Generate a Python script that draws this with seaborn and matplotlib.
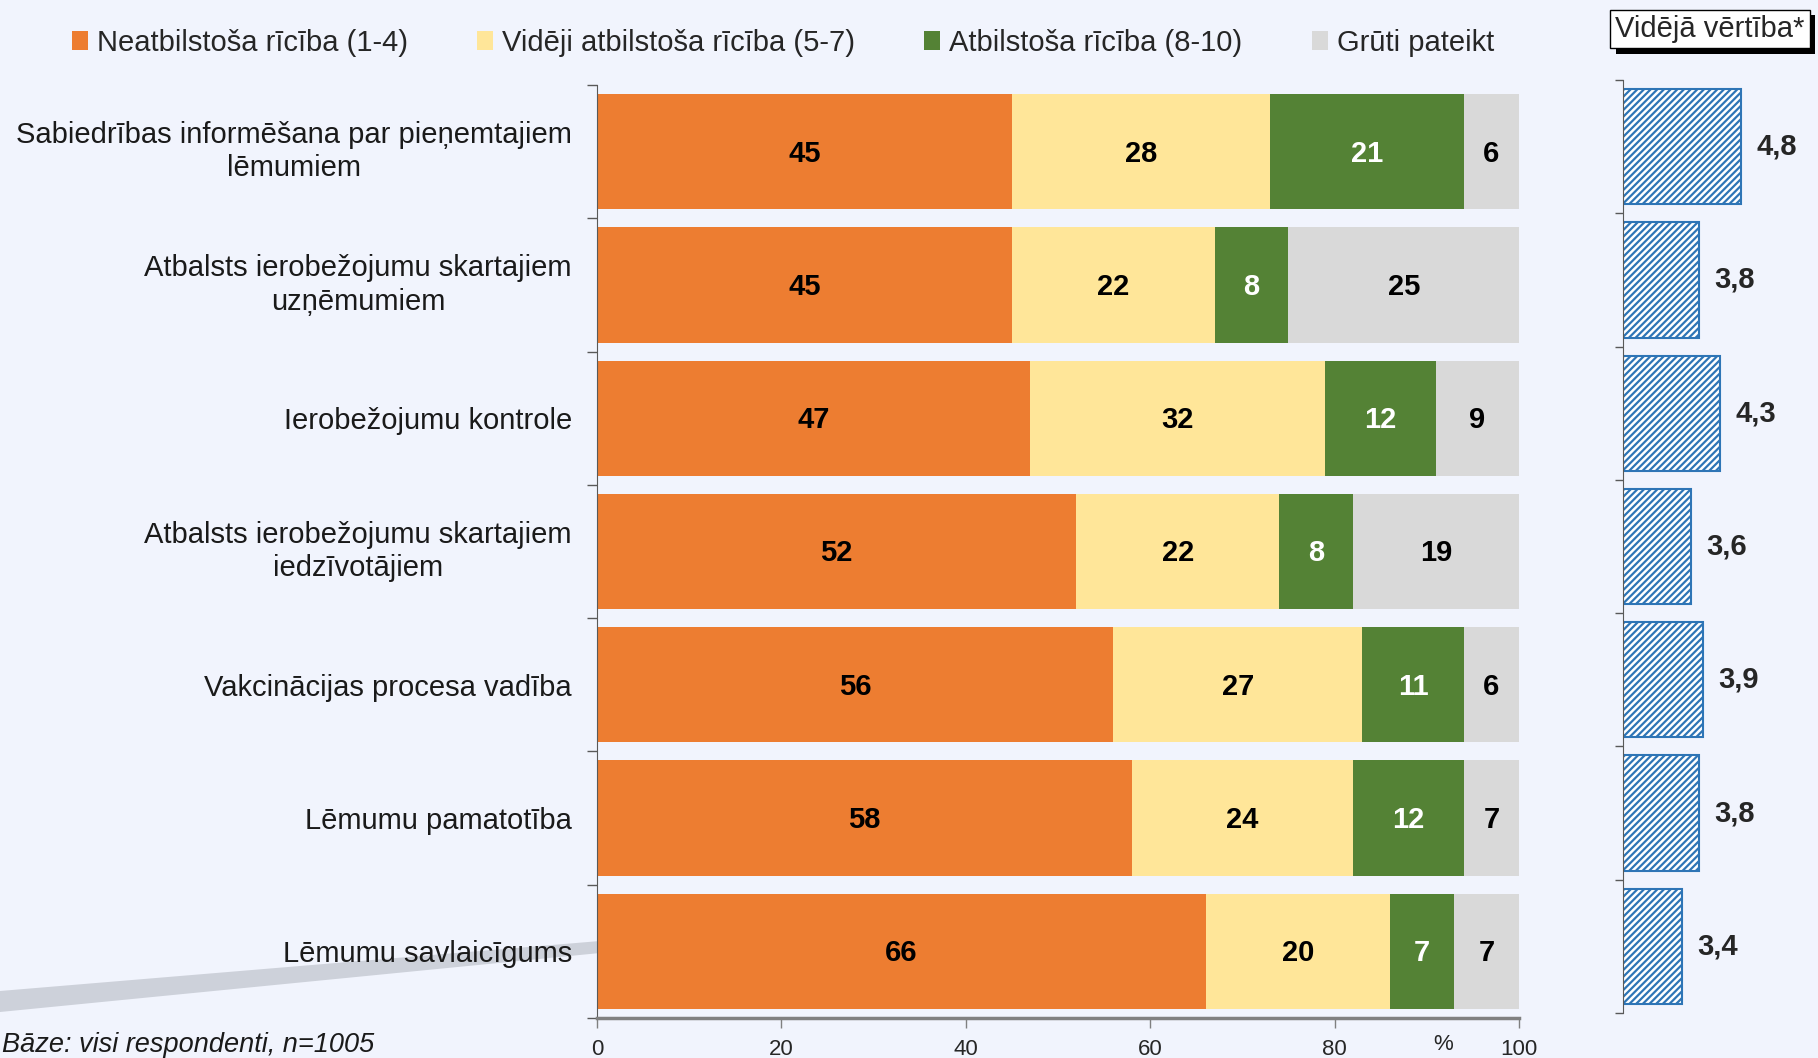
import matplotlib
matplotlib.use('Agg')
import matplotlib.pyplot as plt
import matplotlib.patheffects as pe
from matplotlib.patches import Patch, Polygon
import seaborn as sns
import numpy as np

# data
categories = ['Sabiedrības informēšana par pieņemtajiem\nlēmumiem',
              'Atbalsts ierobežojumu skartajiem\nuzņēmumiem',
              'Ierobežojumu kontrole',
              'Atbalsts ierobežojumu skartajiem\niedzīvotājiem',
              'Vakcinācijas procesa vadība',
              'Lēmumu pamatotība',
              'Lēmumu savlaicīgums']
neatbilstosa = [45, 45, 47, 52, 56, 58, 66]
videji = [28, 22, 32, 22, 27, 24, 20]
atbilstosa = [21, 8, 12, 8, 11, 12, 7]
gruti = [6, 25, 9, 19, 6, 7, 7]
videja_vertiba = [4.8, 3.8, 4.3, 3.6, 3.9, 3.8, 3.4]

series_names = ['Neatbilstoša rīcība (1-4)', 'Vidēji atbilstoša rīcība (5-7)',
                'Atbilstoša rīcība (8-10)', 'Grūti pateikt']
colors = ['#ED7D31', '#FFE699', '#548235', '#D9D9D9']
text_colors = ['black', 'black', 'white', 'black']

bg = '#f1f4fd'
blue = '#2E75B6'

sns.set_style('ticks')
plt.rcParams['font.family'] = ['Liberation Sans', 'DejaVu Sans']
plt.rcParams['hatch.color'] = blue
plt.rcParams['hatch.linewidth'] = 1.6

fig = plt.figure(figsize=(18.18, 10.58), dpi=100, facecolor=bg)
W, H = 1818, 1058

# decorative grey swoosh bottom-left, behind everything
swoosh = Polygon([(0, 1 - 991 / H), (600 / W, 1 - 941 / H), (600 / W, 1 - 953 / H), (0, 1 - 1012 / H)],
                 closed=True, transform=fig.transFigure, facecolor='#cdd1da', edgecolor='none', zorder=-5)
fig.patches.append(swoosh)

ax = fig.add_axes([597 / W, 1 - 1018 / H, 922 / W, (1018 - 85) / H])
ax2 = fig.add_axes([1623 / W, 1 - 1013 / H, 195 / W, (1018 - 85) / H])
for a in (ax, ax2):
    a.set_facecolor('none')

# stacked bars: draw cumulative totals from the longest down
stack = np.array([neatbilstosa, videji, atbilstosa, gruti])
cum = np.cumsum(stack, axis=0)
for k in range(3, -1, -1):
    sns.barplot(x=cum[k], y=categories, color=colors[k], saturation=1, width=0.866,
                orient='h', errorbar=None, linewidth=0, ax=ax)

# value labels inside segments
for k in range(4):
    for i in range(len(categories)):
        start = cum[k][i] - stack[k][i]
        center = (start + min(cum[k][i], 100)) / 2
        ax.text(center, i + 0.015, f'{stack[k][i]}', ha='center', va='center', fontsize=21,
                fontweight='bold', color=text_colors[k])

ax.set_xlim(0, 100)
ax.set_ylim(len(categories) - 0.5, -0.5)
ax.set(xlabel='', ylabel='')
ax.set_xticks(range(0, 101, 20))
ax.set_xticklabels([str(v) for v in range(0, 101, 20)])
ax.tick_params(axis='x', length=7, width=1, color='#808080', labelsize=16, pad=8, labelcolor='#262626')
ax.set_yticks(range(len(categories)))
ax.set_yticklabels(categories)
ax.set_yticks(np.arange(-0.5, len(categories)), minor=True)
ax.tick_params(axis='y', which='major', length=0, pad=18, labelsize=21, labelcolor='#1a1a1a')
ax.tick_params(axis='y', which='minor', length=7, width=1, color='#595959')
for lbl in ax.get_yticklabels():
    lbl.set_multialignment('center')
    if '\n' in lbl.get_text():
        lbl.set_va('center')
        lbl.set_linespacing(1.25)
for s in ('top', 'right'):
    ax.spines[s].set_visible(False)
ax.spines['left'].set_color('#595959')
ax.spines['bottom'].set_color('#808080')
ax.spines['bottom'].set_linewidth(2.5)
ax.annotate('%', xy=(91.8, 0), xycoords=('data', 'axes fraction'), xytext=(0, -19),
            textcoords='offset points', ha='center', va='center', fontsize=16, color='#262626')

# average score panel
sns.barplot(x=videja_vertiba, y=categories, color='white', saturation=1, width=0.866,
            orient='h', errorbar=None, ax=ax2)
for patch in ax2.patches:
    patch.set_hatch('/////')
    patch.set_edgecolor(blue)
    patch.set_linewidth(1.5)
for i, v in enumerate(videja_vertiba):
    ax2.annotate(f'{v:.1f}'.replace('.', ','), xy=(v, i), xytext=(11, 0), textcoords='offset points',
                 ha='left', va='center', fontsize=21, fontweight='bold')
ax2.set_xlim(2, 6.62)
ax2.set_ylim(len(categories) - 0.5, -0.5)
ax2.set(xlabel='', ylabel='')
ax2.set_xticks([])
ax2.set_yticks(range(len(categories)))
ax2.set_yticks(np.arange(-0.5, len(categories)), minor=True)
ax2.tick_params(axis='y', which='major', length=0, labelleft=False)
ax2.tick_params(axis='y', which='minor', length=6, width=1, color='#595959')
for s in ('top', 'right', 'bottom'):
    ax2.spines[s].set_visible(False)
ax2.spines['left'].set_color('#595959')

# legend
handles = [Patch(facecolor=c, edgecolor='none') for c in colors]
fig.legend(handles, series_names, loc='center left', bbox_to_anchor=(72 / W, 1 - 43 / H), ncol=4,
           frameon=False, borderpad=0, borderaxespad=0, handlelength=0.55, handleheight=0.6,
           handletextpad=0.3, columnspacing=2.38, fontsize=21)

# header box for the right panel
hdr = fig.text(1710 / W, 1 - 29 / H, 'Vidējā vērtība*', ha='center', va='center', fontsize=21,
               bbox=dict(boxstyle='square,pad=0.18', facecolor='white', edgecolor='black', linewidth=1))
hdr.get_bbox_patch().set_path_effects([pe.withSimplePatchShadow(offset=(4, -4), shadow_rgbFace='black', alpha=1)])

fig.text(2 / W, 1 - 1045 / H, 'Bāze: visi respondenti, n=1005', ha='left', va='center',
         fontsize=19.5, style='italic', color='#1a1a1a')

fig.savefig('out.png', dpi=100, facecolor=bg)
